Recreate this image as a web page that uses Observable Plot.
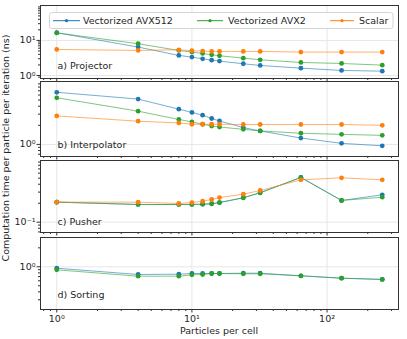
<!DOCTYPE html>
<html><head><meta charset="utf-8">
<script src="https://cdn.jsdelivr.net/npm/d3@7"></script>
<script src="https://cdn.jsdelivr.net/npm/@observablehq/plot@0.6"></script>
<style>
body{margin:0;background:#fff;}
#chart{position:relative;width:407px;height:339px;font-family:"DejaVu Sans",sans-serif;}
#chart svg{position:absolute;left:0;top:0;overflow:visible;}
</style></head><body><div id="chart"></div>
<script>
// ---- data ----
const particlesPerCell = [1, 4, 8, 10, 12, 14, 16, 24, 32, 64, 128, 256];
const seriesNames = ["Vectorized AVX512", "Vectorized AVX2", "Scalar"];

const projectorAVX512 = [16.6, 6.45, 3.73, 3.34, 2.99, 2.74, 2.57, 2.16, 1.93, 1.62, 1.39, 1.33];
const projectorAVX2   = [16.4, 8.04, 5.18, 4.64, 4.25, 3.89, 3.65, 3.12, 2.80, 2.35, 2.20, 1.97];
const projectorScalar = [5.53, 5.18, 5.40, 5.07, 4.95, 4.85, 4.85, 4.85, 4.85, 4.64, 4.64, 4.64];

const interpAVX512 = [6.62, 5.18, 3.59, 3.19, 2.89, 2.56, 2.34, 1.84, 1.63, 1.26, 1.04, 0.95];
const interpAVX2   = [5.43, 3.34, 2.47, 2.26, 2.08, 1.95, 1.88, 1.73, 1.63, 1.50, 1.44, 1.39];
const interpScalar = [2.81, 2.32, 2.18, 2.08, 2.08, 2.08, 2.08, 2.06, 2.06, 2.06, 2.06, 2.00];

const pusherAVX512 = [0.208, 0.191, 0.191, 0.191, 0.193, 0.196, 0.205, 0.244, 0.293, 0.513, 0.221, 0.272];
const pusherAVX2   = [0.208, 0.191, 0.191, 0.191, 0.193, 0.196, 0.205, 0.244, 0.293, 0.513, 0.221, 0.249];
const pusherScalar = [0.208, 0.208, 0.198, 0.205, 0.215, 0.229, 0.246, 0.278, 0.318, 0.470, 0.506, 0.470];

const sortingAVX512 = [0.950, 0.755, 0.763, 0.783, 0.783, 0.783, 0.783, 0.792, 0.792, 0.720, 0.660, 0.630];
const sortingAVX2   = [0.896, 0.710, 0.710, 0.746, 0.755, 0.783, 0.783, 0.774, 0.774, 0.720, 0.660, 0.630];

const panelLabels = ["a) Projector", "b) Interpolator", "c) Pusher", "d) Sorting"];
const panelSeries = [
  [projectorAVX512, projectorAVX2, projectorScalar],
  [interpAVX512, interpAVX2, interpScalar],
  [pusherAVX512, pusherAVX2, pusherScalar],
  [sortingAVX512, sortingAVX2, null]
];
const yDomains = [[0.82, 99], [0.645, 9.8], [0.0686, 0.952], [0.21, 2.92]];
const xDomain = [0.758, 337.7];

// ---- styles / layout ----
const colors = ["#1f77b4", "#2ca02c", "#ff7f0e"];
const layout = [
  {top: 5, bottom: 78, labelDy: -13},
  {top: 81, bottom: 156, labelDy: -12},
  {top: 160, bottom: 232, labelDy: -10.5},
  {top: 237, bottom: 309, labelDy: -15}
];
const FONT = "DejaVu Sans";
const FS = 9.5;
const TXT = "#262626";
const AX = "#333333";

const supMap = {"-": "\u207B", "0": "\u2070", "1": "\u00B9", "2": "\u00B2", "3": "\u00B3"};
const fmt = d => "10" + String(Math.round(Math.log10(d))).split("").map(c => supMap[c]).join("");

function majors([lo, hi]) {
  const out = [];
  for (let k = Math.floor(Math.log10(lo)); k <= Math.ceil(Math.log10(hi)); k++) {
    const v = Math.pow(10, k);
    if (v >= lo && v <= hi) out.push(v);
  }
  return out;
}
function minors([lo, hi]) {
  const out = [];
  for (let k = Math.floor(Math.log10(lo)); k <= Math.ceil(Math.log10(hi)); k++) {
    for (let m = 2; m <= 9; m++) {
      const v = m * Math.pow(10, k);
      if (v >= lo && v <= hi) out.push(v);
    }
  }
  return out;
}

const chart = document.getElementById("chart");

panelLabels.forEach((label, i) => {
  const L = layout[i];
  const isLast = i === panelLabels.length - 1;
  const mt = 5, mb = isLast ? 30 : 5;
  const h = L.bottom - L.top;
  const yDomain = yDomains[i];
  const rows = [];
  panelSeries[i].forEach((vals, s) => {
    if (!vals) return;
    vals.forEach((v, j) => rows.push({ppc: particlesPerCell[j], value: v, series: seriesNames[s], si: s}));
  });
  const lineMarks = [];
  const dotMarks = [];
  [0, 1, 2].forEach(s => {
    const d = rows.filter(r => r.si === s);
    if (!d.length) return;
    lineMarks.push(Plot.line(d, {x: "ppc", y: "value", stroke: colors[s], strokeOpacity: 0.6, strokeWidth: 1}));
    dotMarks.push(Plot.dot(d, {x: "ppc", y: "value", fill: colors[s], r: 2.4}));
  });
  const svg = Plot.plot({
    width: 407, height: mt + h + mb,
    marginTop: mt, marginBottom: mb, marginLeft: 40, marginRight: 9,
    style: {fontFamily: FONT, fontSize: FS + "px", color: TXT, background: "transparent", overflow: "visible"},
    x: {type: "log", domain: xDomain},
    y: {type: "log", domain: yDomain},
    marks: [
      Plot.gridX(majors(xDomain), {stroke: "#e6e6e6", strokeOpacity: 1}),
      Plot.gridY(majors(yDomain), {stroke: "#e6e6e6", strokeOpacity: 1}),
      ...lineMarks.flatMap((l, k) => [l, dotMarks[k]]),
      Plot.text([label], {text: d => d, frameAnchor: "bottom-left", dx: 17, dy: L.labelDy, lineAnchor: "middle", textAnchor: "start", fill: TXT}),
      Plot.frame({stroke: AX, strokeWidth: 1}),
      Plot.axisX(majors(xDomain), {anchor: "bottom", tickSize: 3.5, stroke: AX, tickFormat: fmt, fill: isLast ? TXT : "none", label: null, tickPadding: 2}),
      Plot.axisX(minors(xDomain), {anchor: "bottom", tickSize: 2, stroke: AX, fill: "none", label: null}),
      Plot.axisY(majors(yDomain), {anchor: "left", tickSize: 3.5, stroke: AX, tickFormat: fmt, fill: TXT, label: null, tickPadding: 1.5}),
      Plot.axisY(minors(yDomain), {anchor: "left", tickSize: 2, stroke: AX, fill: "none", label: null})
    ]
  });
  svg.style.top = (L.top - mt) + "px";
  chart.appendChild(svg);
});

// ---- overlay: axis titles + legend ----
const ns = "http://www.w3.org/2000/svg";
const ov = document.createElementNS(ns, "svg");
ov.setAttribute("width", 407); ov.setAttribute("height", 339);
ov.style.fontFamily = FONT; ov.style.fontSize = FS + "px";
function el(tag, attrs, text) {
  const e = document.createElementNS(ns, tag);
  for (const k in attrs) e.setAttribute(k, attrs[k]);
  if (text) e.textContent = text;
  ov.appendChild(e);
  return e;
}
el("text", {transform: "translate(8.5,148) rotate(-90)", "text-anchor": "middle", fill: TXT}, "Computation time per particle per iteration (ns)");
el("text", {x: 219, y: 333.5, "text-anchor": "middle", fill: TXT}, "Particles per cell");

el("rect", {x: 49.5, y: 12.5, width: 343.5, height: 16, rx: 2.5, fill: "#fff", "fill-opacity": 0.85, stroke: "#cccccc", "stroke-width": 0.8});
const legendPos = [{x0: 53, x1: 80, tx: 83}, {x0: 197, x1: 223, tx: 228}, {x0: 330, x1: 354, tx: 359}];
seriesNames.forEach((name, s) => {
  const p = legendPos[s];
  el("line", {x1: p.x0, x2: p.x1, y1: 20.7, y2: 20.7, stroke: colors[s], "stroke-width": 1});
  el("circle", {cx: (p.x0 + p.x1) / 2, cy: 20.7, r: 1.6, fill: colors[s]});
  el("text", {x: p.tx, y: 20.7, dy: "0.35em", fill: TXT}, name);
});
chart.appendChild(ov);
</script></body></html>
